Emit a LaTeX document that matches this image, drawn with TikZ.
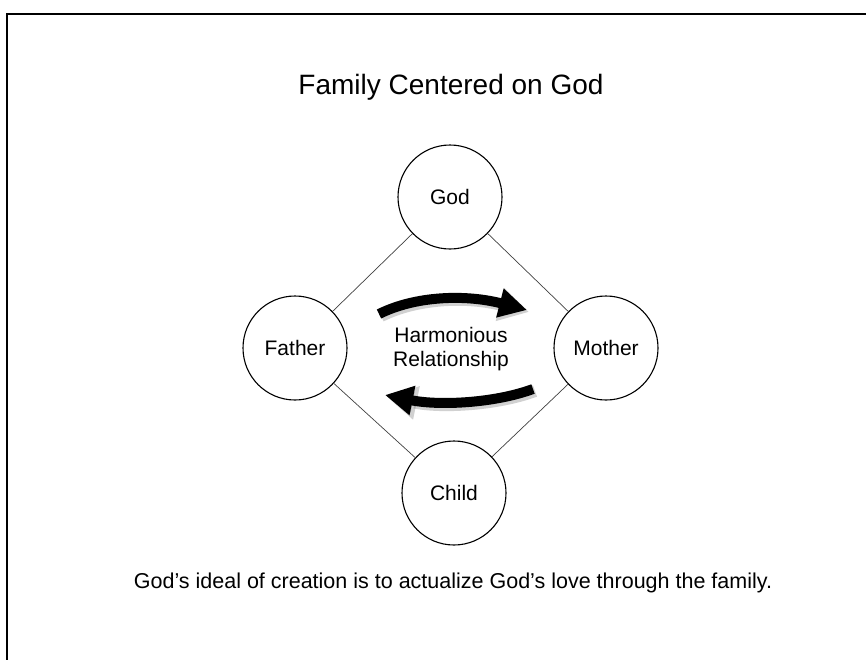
\documentclass[tikz,border=0pt]{standalone}
\usepackage{fontspec}
\setmainfont{Liberation Sans}
\usetikzlibrary{arrows.meta}
\begin{document}
\begin{tikzpicture}[x=1pt,y=-1pt,
  person/.style={circle,draw,line width=1.1pt,minimum size=104pt,inner sep=0pt,font=\fontsize{21}{24}\selectfont},
  link/.style={line width=0.7pt,black!75},
  bigarrow/.style={line width=10pt,-{Triangle[length=28pt,width=28pt]}},
  arrowshadow/.style={line width=12pt,black,opacity=0.18,-{Triangle[length=30pt,width=32pt]}},
  label/.style={font=\fontsize{21}{24}\selectfont,align=center,inner sep=0pt}
]
\useasboundingbox (0,0) rectangle (866,659);
\draw[line width=2pt] (7,660) -- (7,14) -- (867,14);

\node[anchor=base,inner sep=0pt,font=\fontsize{28}{32}\selectfont] (title) at (451,94) {Family Centered on God};

\node[person] (god) at (450,197) {God};
\node[person] (father) at (295,348) {Father};
\node[person] (mother) at (606,348) {Mother};
\node[person] (child) at (454,493) {Child};

\draw[link] (god) -- (father);
\draw[link] (god) -- (mother);
\draw[link] (father) -- (child);
\draw[link] (mother) -- (child);

\node[label] (harm) at (451,349) {Harmonious\\Relationship};

\coordinate (t1) at (379,314);
\coordinate (t2) at (527,310);
\coordinate (b1) at (533,389);
\coordinate (b2) at (385,395);
\coordinate (s1) at (381,316);
\coordinate (s2) at (529,312);
\coordinate (r1) at (535,391);
\coordinate (r2) at (387,397);

\draw[arrowshadow] (s1) .. controls (417,298) and (467,296) .. (s2);
\draw[arrowshadow] (r1) .. controls (497,405) and (442,408) .. (r2);
\draw[bigarrow] (t1) .. controls (415,296) and (465,294) .. (t2);
\draw[bigarrow] (b1) .. controls (495,403) and (440,406) .. (b2);

\node[anchor=base,inner sep=0pt,font=\fontsize{21.5}{24}\selectfont] (caption) at (453,588) {God’s ideal of creation is to actualize God’s love through the family.};
\end{tikzpicture}
\end{document}
